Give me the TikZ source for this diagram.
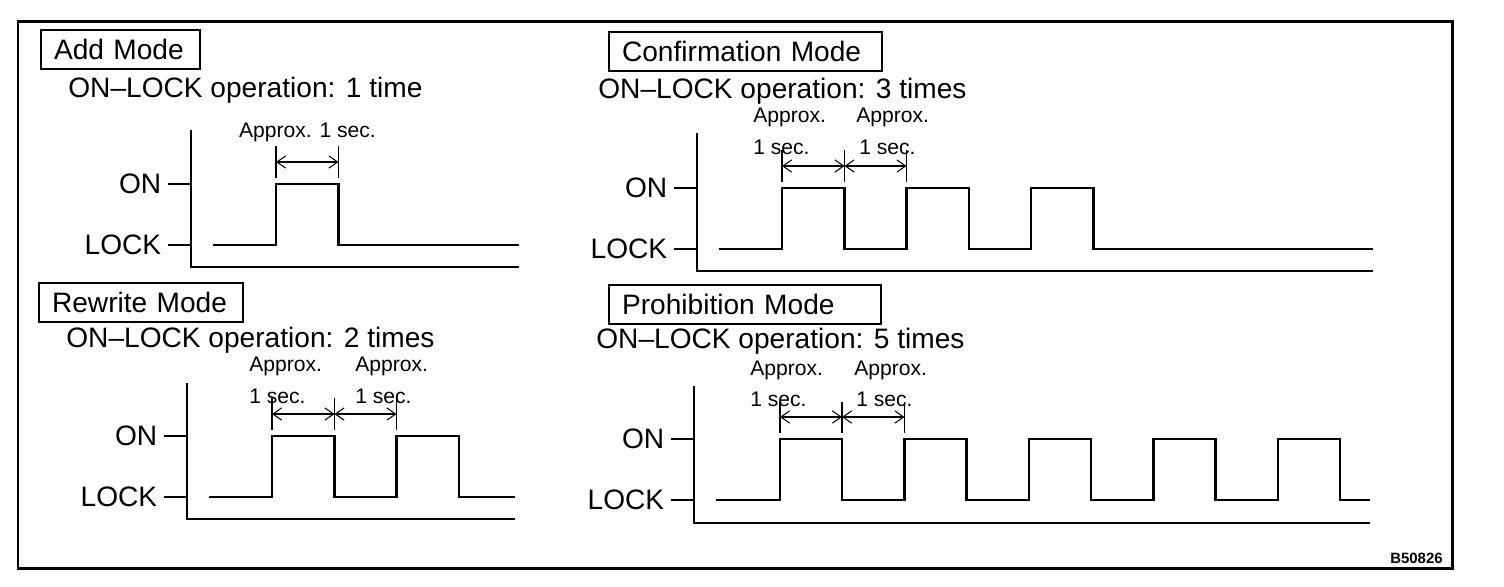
\documentclass[tikz,border=0pt]{standalone}
\usepackage{fontspec}
\setmainfont{Liberation Sans}
\usetikzlibrary{arrows.meta}

\begin{document}
\begin{tikzpicture}[x=0.02cm,y=-0.02cm,
  big/.style={font=\fontsize{16}{19}\selectfont},
  small/.style={font=\fontsize{12}{14}\selectfont, inner sep=0pt, anchor=base west},
  modebox/.style={draw, line width=1pt, anchor=north west, align=left, inner xsep=7.5pt, minimum height=0.78cm, big},
  subtitle/.style={big, anchor=base west, inner sep=0pt},
  level/.style={big, anchor=east},
  axis/.style={line width=1.1pt},
  signal/.style={line width=1.2pt},
  dim/.style={line width=0.6pt},
  span/.style={dim, {Straight Barb[length=5pt,width=7pt]}-{Straight Barb[length=5pt,width=7pt]}}]

  \useasboundingbox (0,0) rectangle (1504,586);
  % outer frame
  \draw[line width=1.7pt] (18,21) rectangle (1452,568);

  % Add mode: one pulse
  \node[modebox, text width=2.65cm] (addbox) at (40,29) {Add Mode};
  \node[subtitle] (addop) at (68,97) {ON–LOCK operation: 1 time};
  \begin{scope}[shift={(191,267)}]
    \draw[axis] (0,-137) -- (0,0) -- (328,0);
    \draw[axis] (0,-83) -- (-23,-83) node[level] (addon) {ON};
    \draw[axis] (0,-22) -- (-23,-22) node[level] (addlock) {LOCK};
    \draw[signal] (22,-22) \foreach \k in {0} { -- ({85+124.5*\k},-22) -- ++(0,-61) -- ++(62.5,0) -- ++(0,61) } -- (328,-22);
    \coordinate (adda) at (85,-105);
    \coordinate (addb) at (147.5,-105);
    \draw[dim] (85,-121) -- (85,-89) (147.5,-121) -- (147.5,-89);
    \draw[span] (adda) -- (addb);
    \node[small, anchor=base] (addsec) at (116.5,-130) {Approx. 1 sec.};
  \end{scope}

  % Confirmation mode: three pulses
  \node[modebox, text width=4.93cm] (confbox) at (608,31) {Confirmation Mode};
  \node[subtitle] (confop) at (598,98) {ON–LOCK operation: 3 times};
  \begin{scope}[shift={(697,271)}]
    \draw[axis] (0,-138) -- (0,0) -- (676,0);
    \draw[axis] (0,-83) -- (-23,-83) node[level] (confon) {ON};
    \draw[axis] (0,-22) -- (-23,-22) node[level] (conflock) {LOCK};
    \draw[signal] (22,-22) \foreach \k in {0,1,2} { -- ({85+124.5*\k},-22) -- ++(0,-61) -- ++(62.5,0) -- ++(0,61) } -- (676,-22);
    \coordinate (confa) at (85,-105);
    \coordinate (confb) at (147.5,-105);
    \coordinate (confc) at (209.5,-105);
    \foreach \tx in {85,147.5,209.5}
      \draw[dim] (\tx,-121) -- (\tx,-89);
    \draw[span] (confa) -- (confb);
    \draw[span] (confb) -- (confc);
    \node[small] (confap1) at (56,-149) {Approx.};
    \node[small] (confse1) at (56,-117) {1 sec.};
    \node[small] (confap2) at (159,-149) {Approx.};
    \node[small] (confse2) at (162,-117) {1 sec.};
  \end{scope}

  % Rewrite mode: two pulses
  \node[modebox, text width=3.55cm] (rewbox) at (38,282) {Rewrite Mode};
  \node[subtitle] (rewop) at (66,347) {ON–LOCK operation: 2 times};
  \begin{scope}[shift={(187,519)}]
    \draw[axis] (0,-136) -- (0,0) -- (328,0);
    \draw[axis] (0,-83) -- (-23,-83) node[level] (rewon) {ON};
    \draw[axis] (0,-22) -- (-23,-22) node[level] (rewlock) {LOCK};
    \draw[signal] (22,-22) \foreach \k in {0,1} { -- ({85+124.5*\k},-22) -- ++(0,-61) -- ++(62.5,0) -- ++(0,61) } -- (328,-22);
    \coordinate (rewa) at (85,-105);
    \coordinate (rewb) at (147.5,-105);
    \coordinate (rewc) at (209.5,-105);
    \foreach \tx in {85,147.5,209.5}
      \draw[dim] (\tx,-121) -- (\tx,-89);
    \draw[span] (rewa) -- (rewb);
    \draw[span] (rewb) -- (rewc);
    \node[small] (rewap1) at (62,-148) {Approx.};
    \node[small] (rewse1) at (62,-116) {1 sec.};
    \node[small] (rewap2) at (168,-148) {Approx.};
    \node[small] (rewse2) at (168,-116) {1 sec.};
  \end{scope}

  % Prohibition mode: five pulses
  \node[modebox, text width=4.91cm] (probox) at (608,284) {Prohibition Mode};
  \node[subtitle] (proop) at (596,348) {ON–LOCK operation: 5 times};
  \begin{scope}[shift={(694,523)}]
    \draw[axis] (0,-137) -- (0,0) -- (676,0);
    \draw[axis] (0,-84) -- (-23,-84) node[level] (proon) {ON};
    \draw[axis] (0,-23) -- (-23,-23) node[level] (prolock) {LOCK};
    \draw[signal] (22,-23) \foreach \k in {0,...,4} { -- ({86+124.5*\k},-23) -- ++(0,-61) -- ++(62,0) -- ++(0,61) } -- (676,-23);
    \coordinate (proa) at (86,-106);
    \coordinate (prob) at (148,-106);
    \coordinate (proc) at (210.5,-106);
    \foreach \tx in {86,148,210.5}
      \draw[dim] (\tx,-121) -- (\tx,-90);
    \draw[span] (proa) -- (prob);
    \draw[span] (prob) -- (proc);
    \node[small] (proap1) at (56,-148) {Approx.};
    \node[small] (prose1) at (56,-117) {1 sec.};
    \node[small] (proap2) at (160,-148) {Approx.};
    \node[small] (prose2) at (162,-117) {1 sec.};
  \end{scope}

  \node[font=\fontsize{8.5}{10}\selectfont\bfseries, anchor=base east, inner sep=0pt] (figid) at (1443,563) {B50826};
\end{tikzpicture}
\end{document}
